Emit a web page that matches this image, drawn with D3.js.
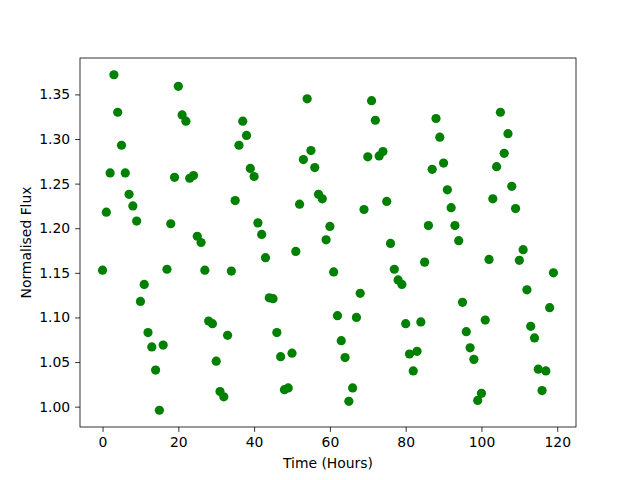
<!DOCTYPE html>
<html>
<head>
<meta charset="utf-8">
<script src="https://cdn.jsdelivr.net/npm/d3@7"></script>
<style>
  body { margin: 0; background: #fff; }
  text { font-family: "DejaVu Sans", sans-serif; }
</style>
</head>
<body>
<div id="chart"></div>
<script>
// Hourly flux readings, hour 0 to 119
const hours = d3.range(0, 120);
const flux = [
  1.153, 1.218, 1.262, 1.372, 1.330, 1.293, 1.262, 1.238, 1.225, 1.208,
  1.118, 1.137, 1.083, 1.067, 1.041, 0.996, 1.069, 1.154, 1.205, 1.257,
  1.359, 1.327, 1.320, 1.256, 1.259, 1.191, 1.184, 1.153, 1.096, 1.093,
  1.051, 1.017, 1.011, 1.080, 1.152, 1.231, 1.293, 1.320, 1.304, 1.267,
  1.258, 1.206, 1.193, 1.167, 1.122, 1.121, 1.083, 1.056, 1.019, 1.021,
  1.060, 1.174, 1.227, 1.277, 1.345, 1.287, 1.268, 1.238, 1.233, 1.187,
  1.202, 1.151, 1.102, 1.074, 1.055, 1.006, 1.021, 1.100, 1.127, 1.221,
  1.280, 1.343, 1.321, 1.281, 1.286, 1.230, 1.183, 1.154, 1.142, 1.137,
  1.093, 1.059, 1.040, 1.062, 1.095, 1.162, 1.203, 1.266, 1.323, 1.302,
  1.273, 1.243, 1.223, 1.203, 1.186, 1.117, 1.084, 1.066, 1.053, 1.007,
  1.015, 1.097, 1.165, 1.233, 1.269, 1.330, 1.284, 1.306, 1.247, 1.222,
  1.164, 1.176, 1.131, 1.090, 1.077, 1.042, 1.018, 1.040, 1.111, 1.150
];
const xTicks = [0, 20, 40, 60, 80, 100, 120];
const yTicks = [1.00, 1.05, 1.10, 1.15, 1.20, 1.25, 1.30, 1.35];

const totalWidth = 640;
const totalHeight = 480;
const margin = { top: 58, right: 64, bottom: 53, left: 80 };
const width = totalWidth - margin.left - margin.right;
const height = totalHeight - margin.top - margin.bottom;

const svg = d3.select('#chart')
  .append('svg')
  .attr('width', totalWidth)
  .attr('height', totalHeight);

const g = svg.append('g')
  .attr('transform', `translate(${margin.left},${margin.top})`);

// matplotlib-like 5% padding around data
const xPad = (d3.max(hours) - d3.min(hours)) * 0.05;
const yPad = (d3.max(flux) - d3.min(flux)) * 0.05;

const x = d3.scaleLinear()
  .domain([d3.min(hours) - xPad, d3.max(hours) + xPad])
  .range([0, width]);

const y = d3.scaleLinear()
  .domain([d3.min(flux) - yPad, d3.max(flux) + yPad])
  .range([height, 0]);

// Points
g.selectAll('circle')
  .data(hours)
  .enter()
  .append('circle')
  .attr('cx', d => x(d))
  .attr('cy', (d, i) => y(flux[i]))
  .attr('r', 4.6)
  .attr('fill', '#008000');

// Axes
const xAxis = g.append('g')
  .attr('transform', `translate(0,${height})`)
  .call(d3.axisBottom(x).tickValues(xTicks).tickFormat(d3.format('d')).tickSizeOuter(0).tickSize(4.9).tickPadding(4.9));

const yAxis = g.append('g')
  .call(d3.axisLeft(y).tickValues(yTicks).tickFormat(d3.format('.2f')).tickSizeOuter(0).tickSize(4.9).tickPadding(4.9));

[xAxis, yAxis].forEach(a => {
  a.select('.domain').remove();
  a.selectAll('.tick line').attr('stroke', '#000').attr('stroke-width', 0.8);
  a.selectAll('.tick text')
    .attr('fill', '#000')
    .style('font-size', '13.9px')
    .style('font-family', '"DejaVu Sans", sans-serif');
});

// Frame
g.append('rect')
  .attr('x', 0)
  .attr('y', 0)
  .attr('width', width)
  .attr('height', height)
  .attr('fill', 'none')
  .attr('stroke', '#000')
  .attr('stroke-width', 0.8);

// Axis labels
svg.append('text')
  .attr('x', margin.left + width / 2)
  .attr('y', 468)
  .attr('text-anchor', 'middle')
  .style('font-size', '13.9px')
  .text('Time (Hours)');

svg.append('text')
  .attr('transform', `translate(31,${margin.top + height / 2}) rotate(-90)`)
  .attr('text-anchor', 'middle')
  .style('font-size', '13.9px')
  .text('Normalised Flux');
</script>
</body>
</html>
